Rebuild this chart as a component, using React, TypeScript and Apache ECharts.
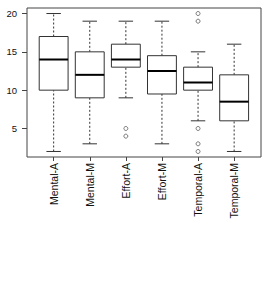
import React, { useEffect, useRef } from "react";
import * as echarts from "echarts";

const categories = ["Mental-A", "Mental-M", "Effort-A", "Effort-M", "Temporal-A", "Temporal-M"];
// [low whisker, q1, median, q3, high whisker]
const boxStats = [
  [2, 10, 14, 17, 20],
  [3, 9, 12, 15, 19],
  [9, 13, 14, 16, 19],
  [3, 9.5, 12.5, 14.5, 19],
  [6, 10, 11, 13, 15],
  [2, 6, 8.5, 12, 16],
];
// [category index, value]
const outliers = [
  [2, 5],
  [2, 4],
  [4, 20],
  [4, 19],
  [4, 5],
  [4, 3],
  [4, 2],
];
const yTicks = [5, 10, 15, 20];
const yMin = 1.28;
const yMax = 20.72;

export default function App() {
  const ref = useRef<HTMLDivElement>(null);
  useEffect(() => {
    if (!ref.current) return;
    const chart = echarts.init(ref.current, null, { renderer: "svg" });
    const font = "Liberation Sans, Arial, sans-serif";
    const customData = boxStats.map((s, i) => [i, ...s]);
    chart.setOption({
      animation: false,
      backgroundColor: "#ffffff",
      grid: [
        { left: 27, right: 9, top: 8, bottom: 126, show: true, borderColor: "#444", borderWidth: 1, backgroundColor: "transparent" },
        { left: 35.6, width: 216.6, top: 8, bottom: 126 },
      ],
      xAxis: [
        { gridIndex: 0, type: "value", min: 0, max: 1, show: false },
        {
          gridIndex: 1,
          type: "category",
          data: categories,
          boundaryGap: true,
          axisLine: { show: false },
          axisTick: { show: true, alignWithLabel: true, length: 4, lineStyle: { color: "#444" } },
          axisLabel: { rotate: 90, margin: 6, fontSize: 10.5, color: "#111", fontFamily: font, interval: 0 },
        },
      ],
      yAxis: [
        {
          gridIndex: 0,
          type: "value",
          min: yMin,
          max: yMax,
          splitLine: { show: false },
          axisLine: { show: false },
          axisTick: { show: true, length: 5, customValues: yTicks, lineStyle: { color: "#444" } },
          axisLabel: { customValues: yTicks, margin: 10, fontSize: 9.5, color: "#111", fontFamily: font },
        },
        { gridIndex: 1, type: "value", min: yMin, max: yMax, show: false },
      ],
      series: [
        {
          type: "custom",
          xAxisIndex: 1,
          yAxisIndex: 1,
          data: customData,
          encode: { x: 0, y: [1, 2, 3, 4, 5] },
          renderItem: (params: any, api: any) => {
            const x = api.value(0);
            const lo = api.coord([x, api.value(1)]);
            const q1 = api.coord([x, api.value(2)]);
            const med = api.coord([x, api.value(3)]);
            const q3 = api.coord([x, api.value(4)]);
            const hi = api.coord([x, api.value(5)]);
            const band = api.size([1, 0])[0];
            const bw = band * 0.8;
            const cw = bw * 0.5;
            const cx = lo[0];
            const line = { stroke: "#333", lineWidth: 1 };
            return {
              type: "group",
              children: [
                { type: "line", shape: { x1: cx, y1: q3[1], x2: cx, y2: hi[1] }, style: { ...line, lineDash: [2, 2] } },
                { type: "line", shape: { x1: cx, y1: lo[1], x2: cx, y2: q1[1] }, style: { ...line, lineDash: [2, 2] } },
                { type: "line", shape: { x1: cx - cw / 2, y1: hi[1], x2: cx + cw / 2, y2: hi[1] }, style: line },
                { type: "line", shape: { x1: cx - cw / 2, y1: lo[1], x2: cx + cw / 2, y2: lo[1] }, style: line },
                { type: "rect", shape: { x: cx - bw / 2, y: q3[1], width: bw, height: q1[1] - q3[1] }, style: { ...line, fill: "#fff" } },
                { type: "line", shape: { x1: cx - bw / 2, y1: med[1], x2: cx + bw / 2, y2: med[1] }, style: { stroke: "#000", lineWidth: 2 } },
              ],
            };
          },
        },
        {
          type: "scatter",
          xAxisIndex: 1,
          yAxisIndex: 1,
          data: outliers,
          symbol: "circle",
          symbolSize: 4,
          itemStyle: { color: "#fff", borderColor: "#333", borderWidth: 0.8 },
        },
      ],
    });
    return () => chart.dispose();
  }, []);
  return <div ref={ref} style={{ position: "fixed", left: 0, top: 0, width: 270, height: 283 }} />;
}
